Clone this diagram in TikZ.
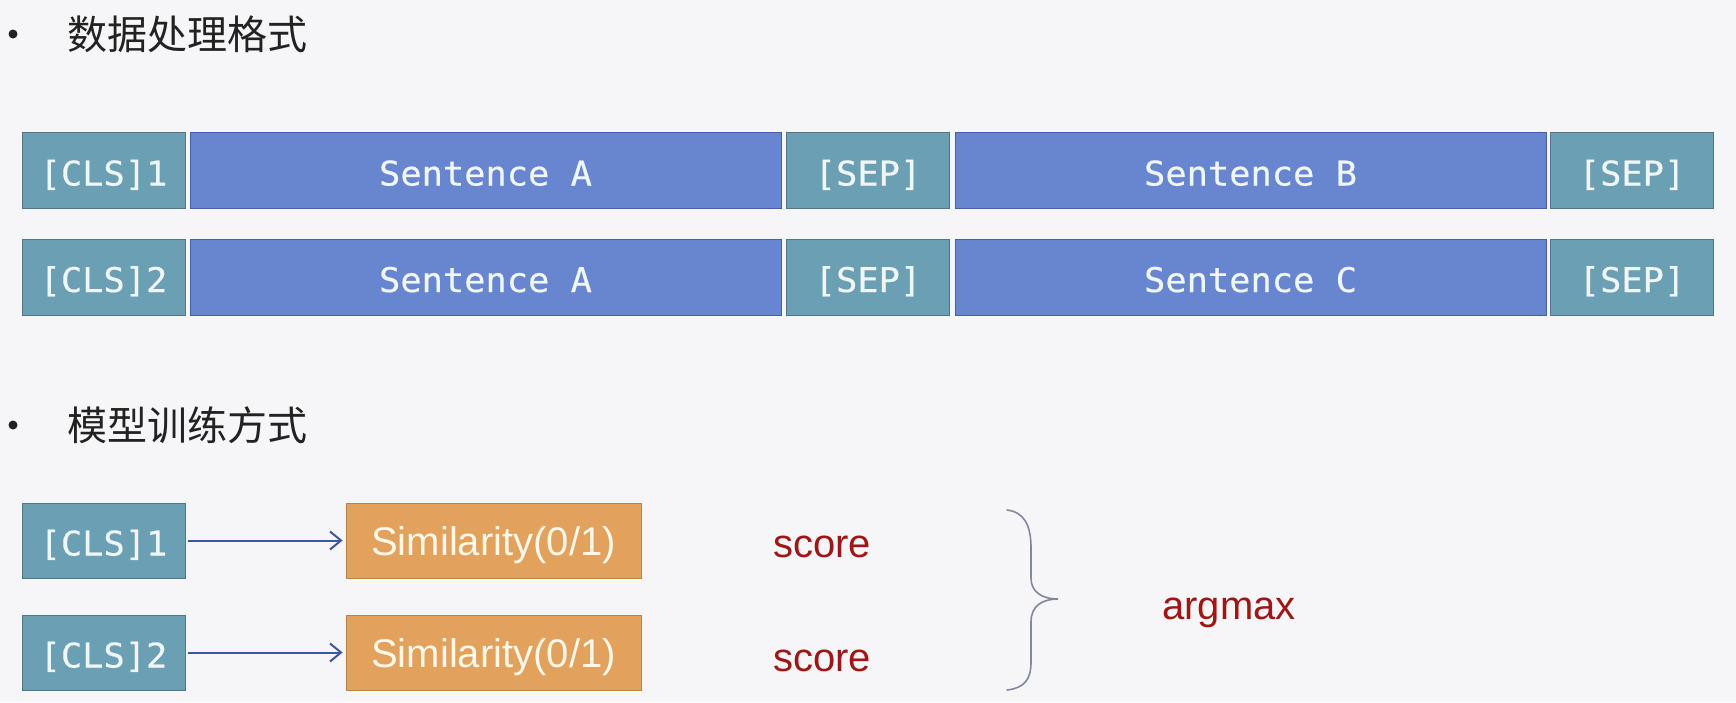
\documentclass[tikz,border=0pt]{standalone}
\usepackage{fontspec}
\newfontfamily\cjkfont{Noto Sans CJK SC}
\newfontfamily\tokfont[FakeStretch=1.04,FakeBold=0.4]{DejaVu Sans Mono}
\newfontfamily\labfont{Liberation Sans}
\usetikzlibrary{arrows.meta}

\definecolor{bg}{HTML}{F6F6F8}
\definecolor{tokfill}{RGB}{107,160,180}
\definecolor{tokedge}{RGB}{78,120,138}
\definecolor{sentfill}{RGB}{104,134,207}
\definecolor{sentedge}{RGB}{70,96,165}
\definecolor{simfill}{RGB}{226,161,92}
\definecolor{simedge}{RGB}{190,130,70}
\definecolor{boxtext}{RGB}{240,246,246}
\definecolor{simtext}{RGB}{255,248,232}
\definecolor{arrowc}{RGB}{60,86,166}
\definecolor{scorec}{RGB}{160,22,22}
\definecolor{bracec}{RGB}{128,136,160}
\definecolor{headc}{RGB}{34,34,34}

\tikzset{
  cell/.style={line width=0.8pt, inner sep=0pt, minimum height=76pt,
    text height=30pt, text depth=0pt, text=boxtext,
    font=\tokfont\fontsize{34}{40}\selectfont},
  tokbox/.style={cell, fill=tokfill, draw=tokedge, minimum width=163pt},
  sentbox/.style={cell, fill=sentfill, draw=sentedge, minimum width=591pt},
  simbox/.style={fill=simfill, draw=simedge, line width=0.8pt, inner sep=0pt,
    minimum width=295pt, minimum height=75pt, text=simtext,
    text height=30pt, text depth=0pt,
    font=\labfont\fontsize{40}{46}\selectfont},
  heading/.style={anchor=base west, inner sep=0pt, text=headc,
    font=\cjkfont\fontsize{40}{46}\selectfont},
  scorelab/.style={anchor=base, inner sep=0pt, text=scorec,
    font=\labfont\fontsize{40}{46}\selectfont},
  link/.style={draw=arrowc, line width=2pt,
    -{Straight Barb[length=11pt,width=18pt,line width=2pt]}},
}

\begin{document}
\begin{tikzpicture}[x=1pt,y=-1pt]
  \fill[bg] (0,0) rectangle (1736,702);
  \useasboundingbox (0,0) rectangle (1736,702);

  % headings
  \fill[headc] (13,34) circle (4.5);
  \node[heading] (h1) at (67,49) {数据处理格式};
  \fill[headc] (13,425) circle (4.5);
  \node[heading] (h2) at (67,440) {模型训练方式};

  % input layout, first pair
  \node[tokbox]  (cls1) at (103.5,170.5) {[CLS]1};
  \node[sentbox] (sa1)  at (485.5,170.5) {Sentence A};
  \node[tokbox]  (sep1) at (868,170.5)   {[SEP]};
  \node[sentbox] (sb)   at (1250.5,170.5){Sentence B};
  \node[tokbox]  (sep2) at (1632,170.5)  {[SEP]};

  % input layout, second pair
  \node[tokbox]  (cls2) at (103.5,277) {[CLS]2};
  \node[sentbox] (sa2)  at (485.5,277) {Sentence A};
  \node[tokbox]  (sep3) at (868,277)   {[SEP]};
  \node[sentbox] (sc)   at (1250.5,277){Sentence C};
  \node[tokbox]  (sep4) at (1632,277)  {[SEP]};

  % training: CLS vectors to similarity heads
  \node[tokbox, minimum height=75pt] (t1) at (103.5,540.5) {[CLS]1};
  \node[tokbox, minimum height=75pt] (t2) at (103.5,652.5) {[CLS]2};
  \node[simbox] (s1) at (493.5,540.5) {Similarity(0/1)};
  \node[simbox] (s2) at (493.5,652.5) {Similarity(0/1)};
  \draw[link, shorten <=3pt, shorten >=3pt] (t1.east) -- (s1.west);
  \draw[link, shorten <=3pt, shorten >=3pt] (t2.east) -- (s2.west);

  \node[scorelab] (sc1) at (822,557) {score};
  \node[scorelab] (sc2) at (822,671) {score};

  % brace collecting both scores
  \coordinate (btop) at (1007,510);
  \coordinate (btip) at (1058,599);
  \coordinate (bbot) at (1007,690);
  \draw[bracec, line width=1.6pt, line cap=round]
    (btop) .. controls (1024,512) and (1031,525) .. (1031,548)
    -- (1031,578) .. controls (1031,592) and (1042,599) .. (btip)
    .. controls (1042,599) and (1031,606) .. (1031,622)
    -- (1031,662) .. controls (1031,680) and (1024,688) .. (bbot);

  \node[scorelab] (am) at (1229,619) {argmax};
\end{tikzpicture}
\end{document}
